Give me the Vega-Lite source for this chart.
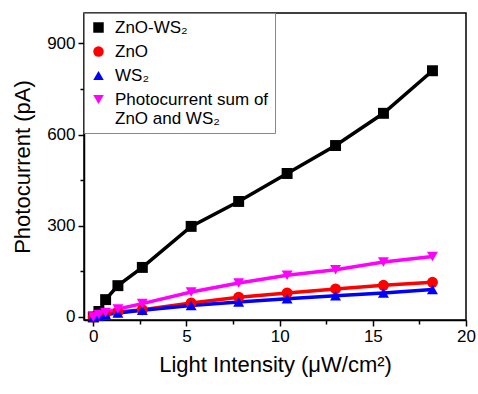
{
  "$schema": "https://vega.github.io/schema/vega-lite/v6.json",
  "width": 382,
  "height": 307,
  "autosize": "none",
  "padding": {"left": 84, "top": 13, "right": 12, "bottom": 74},
  "background": "white",
  "config": {
    "font": "Liberation Sans",
    "view": {"stroke": "black", "strokeWidth": 1.5},
    "axis": {"domainColor": "black", "domainWidth": 1.5, "tickColor": "black", "tickWidth": 1.5, "labelColor": "black", "titleColor": "black", "labelFontSize": 17, "titleFontSize": 21, "titleFontWeight": "normal", "grid": false, "labelOverlap": false, "labelFlush": false},
    "legend": {"orient": "none", "legendX": 0, "legendY": 0, "strokeColor": "#888888", "fillColor": "white", "padding": 6, "labelFontSize": 17, "labelColor": "black", "labelLimit": 400, "symbolSize": 110, "symbolStrokeWidth": 0, "rowPadding": 6, "labelOffset": 8}
  },
  "data": {"values": [
    {"x": 0, "y": 0, "s": "ZnO-WS₂"},
    {"x": 0.3, "y": 18, "s": "ZnO-WS₂"},
    {"x": 0.66, "y": 57, "s": "ZnO-WS₂"},
    {"x": 1.32, "y": 103, "s": "ZnO-WS₂"},
    {"x": 2.63, "y": 163, "s": "ZnO-WS₂"},
    {"x": 5.25, "y": 298, "s": "ZnO-WS₂"},
    {"x": 7.8, "y": 380, "s": "ZnO-WS₂"},
    {"x": 10.4, "y": 472, "s": "ZnO-WS₂"},
    {"x": 13.0, "y": 564, "s": "ZnO-WS₂"},
    {"x": 15.57, "y": 670, "s": "ZnO-WS₂"},
    {"x": 18.2, "y": 810, "s": "ZnO-WS₂"},
    {"x": 0, "y": 0, "s": "ZnO"},
    {"x": 0.3, "y": 5, "s": "ZnO"},
    {"x": 0.66, "y": 11, "s": "ZnO"},
    {"x": 1.32, "y": 16, "s": "ZnO"},
    {"x": 2.63, "y": 24, "s": "ZnO"},
    {"x": 5.25, "y": 46, "s": "ZnO"},
    {"x": 7.8, "y": 65, "s": "ZnO"},
    {"x": 10.4, "y": 79, "s": "ZnO"},
    {"x": 13.0, "y": 92, "s": "ZnO"},
    {"x": 15.57, "y": 104, "s": "ZnO"},
    {"x": 18.2, "y": 114, "s": "ZnO"},
    {"x": 0, "y": 0, "s": "WS₂"},
    {"x": 0.3, "y": 3, "s": "WS₂"},
    {"x": 0.66, "y": 8, "s": "WS₂"},
    {"x": 1.32, "y": 13, "s": "WS₂"},
    {"x": 2.63, "y": 22, "s": "WS₂"},
    {"x": 5.25, "y": 38, "s": "WS₂"},
    {"x": 7.8, "y": 49, "s": "WS₂"},
    {"x": 10.4, "y": 60, "s": "WS₂"},
    {"x": 13.0, "y": 70, "s": "WS₂"},
    {"x": 15.57, "y": 79, "s": "WS₂"},
    {"x": 18.2, "y": 90, "s": "WS₂"},
    {"x": 0, "y": 0, "s": "Photocurrent sum of ZnO and WS₂"},
    {"x": 0.3, "y": 8, "s": "Photocurrent sum of ZnO and WS₂"},
    {"x": 0.66, "y": 15, "s": "Photocurrent sum of ZnO and WS₂"},
    {"x": 1.32, "y": 26, "s": "Photocurrent sum of ZnO and WS₂"},
    {"x": 2.63, "y": 44, "s": "Photocurrent sum of ZnO and WS₂"},
    {"x": 5.25, "y": 82, "s": "Photocurrent sum of ZnO and WS₂"},
    {"x": 7.8, "y": 112, "s": "Photocurrent sum of ZnO and WS₂"},
    {"x": 10.4, "y": 137, "s": "Photocurrent sum of ZnO and WS₂"},
    {"x": 13.0, "y": 155, "s": "Photocurrent sum of ZnO and WS₂"},
    {"x": 15.57, "y": 181, "s": "Photocurrent sum of ZnO and WS₂"},
    {"x": 18.2, "y": 199, "s": "Photocurrent sum of ZnO and WS₂"}
  ]},
  "encoding": {
    "x": {"field": "x", "type": "quantitative", "scale": {"domain": [-0.5, 20], "nice": false, "zero": false},
      "axis": {"title": "Light Intensity (μW/cm²)", "values": [0, 2.5, 5, 7.5, 10, 12.5, 15, 17.5, 20], "labelExpr": "datum.value % 5 == 0 ? datum.label : ''", "tickSize": {"condition": {"test": "datum.value % 5 != 0", "value": 4}, "value": 6}, "labelPadding": 2, "titlePadding": 10, "titleFontSize": 22}},
    "y": {"field": "y", "type": "quantitative", "scale": {"domain": [-10, 1000], "nice": false, "zero": false},
      "axis": {"title": "Photocurrent (pA)", "values": [0, 150, 300, 450, 600, 750, 900], "labelExpr": "datum.value % 300 == 0 ? datum.label : ''", "tickSize": {"condition": {"test": "datum.value % 300 != 0", "value": 4}, "value": 6}, "labelPadding": 3, "titlePadding": 12, "titleFontSize": 22}},
    "color": {"field": "s", "type": "nominal", "title": null, "scale": {"domain": ["ZnO-WS₂", "ZnO", "WS₂", "Photocurrent sum of ZnO and WS₂"], "range": ["#000000", "#ff0000", "#0000ff", "#ff00ff"]},
      "legend": {"labelExpr": "datum.label == 'Photocurrent sum of ZnO and WS₂' ? ['Photocurrent sum of', 'ZnO and WS₂'] : datum.label"}}
  },
  "layer": [
    {"mark": {"type": "line", "strokeWidth": 3.5}},
    {"mark": {"type": "point", "filled": true, "opacity": 1, "size": 120},
      "encoding": {
        "shape": {"field": "s", "type": "nominal", "title": null, "scale": {"domain": ["ZnO-WS₂", "ZnO", "WS₂", "Photocurrent sum of ZnO and WS₂"], "range": ["square", "circle", "triangle-up", "triangle-down"]},
          "legend": {"labelExpr": "datum.label == 'Photocurrent sum of ZnO and WS₂' ? ['Photocurrent sum of', 'ZnO and WS₂'] : datum.label"}}
      }
    }
  ]
}
